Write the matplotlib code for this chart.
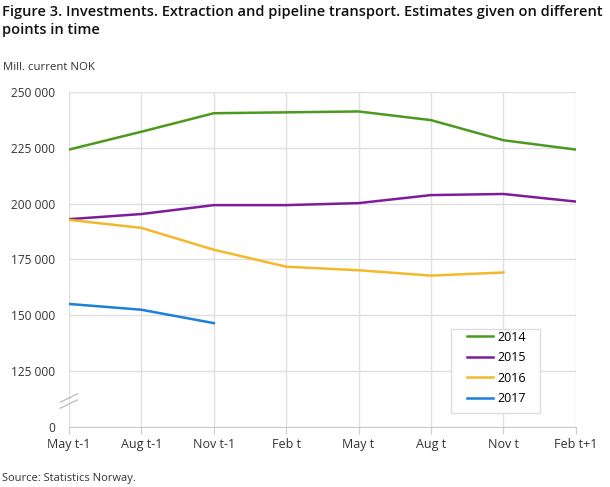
import numpy as np
import matplotlib
matplotlib.use('Agg')
import matplotlib.pyplot as plt
from matplotlib.patches import Rectangle

periods = ['May t-1', 'Aug t-1', 'Nov t-1', 'Feb t', 'May t', 'Aug t', 'Nov t', 'Feb t+1']
y2014 = [224200, 232200, 240500, 240900, 241300, 237400, 228400, 224200]
y2015 = [193000, 195300, 199300, 199300, 200200, 203800, 204300, 200900]
y2016 = [192700, 189100, 179300, 171700, 170100, 167700, 169100]
y2017 = [155000, 152400, 146400]

yticks = [100000, 125000, 150000, 175000, 200000, 225000, 250000]
ytick_labels = ['0', '125 000', '150 000', '175 000', '200 000', '225 000', '250 000']

plt.rcParams['font.family'] = ['Open Sans', 'DejaVu Sans']
fig = plt.figure(figsize=(6.1, 4.87), dpi=100)
ax = fig.add_axes([0.113, 0.124, 0.831, 0.687])

x = np.arange(len(periods))
ax.plot(x, y2014, color='#4b9a1f', lw=1.8, label='2014')
ax.plot(x[:len(y2015)], y2015, color='#7c1d9c', lw=1.8, label='2015')
ax.plot(x[:len(y2016)], y2016, color='#f4b82b', lw=1.8, label='2016')
ax.plot(x[:len(y2017)], y2017, color='#1c80d9', lw=1.8, label='2017')

ax.set_xlim(0, len(periods) - 1)
ax.set_ylim(100000, 250000)
ax.set_xticks(x)
ax.set_xticklabels(periods, fontsize=9, color='#333333')
ax.set_yticks(yticks)
ax.set_yticklabels(ytick_labels, fontsize=8.6, color='#333333')
ax.tick_params(axis='y', length=0, pad=10)
ax.tick_params(axis='x', length=5, color='#cccccc', pad=3)
ax.grid(True, color='#e0e0e0', lw=1)
ax.set_axisbelow(True)
for s in ['top', 'right', 'left']:
    ax.spines[s].set_visible(False)
ax.spines['bottom'].set_color('#cccccc')

# axis break mark
for dy in (0, 0.018):
    ax.plot([-0.017, 0.017], [0.055 + dy, 0.08 + dy], transform=ax.transAxes,
            color='#bbbbbb', lw=0.9, clip_on=False)

# legend box
ax.add_patch(Rectangle((0.754, 0.041), 0.176, 0.251, transform=ax.transAxes,
                       facecolor='white', edgecolor='#dddddd', lw=1, zorder=4))
leg = ax.legend(loc='upper left', bbox_to_anchor=(0.7855, 0.287), fontsize=9,
                frameon=False, handlelength=2.1, handletextpad=0.3,
                labelspacing=0.6, borderpad=0, borderaxespad=0)
leg.set_zorder(5)

fig.text(0.003, 0.99, 'Figure 3. Investments. Extraction and pipeline transport. Estimates given on different\npoints in time',
         fontsize=10.5, fontweight='semibold', color='#111111', va='top', ha='left', linespacing=1.35)
fig.text(0.005, 0.862, 'Mill. current NOK', fontsize=8.2, color='#333333', va='center')
fig.text(0.003, 0.018, 'Source: Statistics Norway.', fontsize=8, color='#333333', va='center')

fig.savefig('out.png', dpi=100)
